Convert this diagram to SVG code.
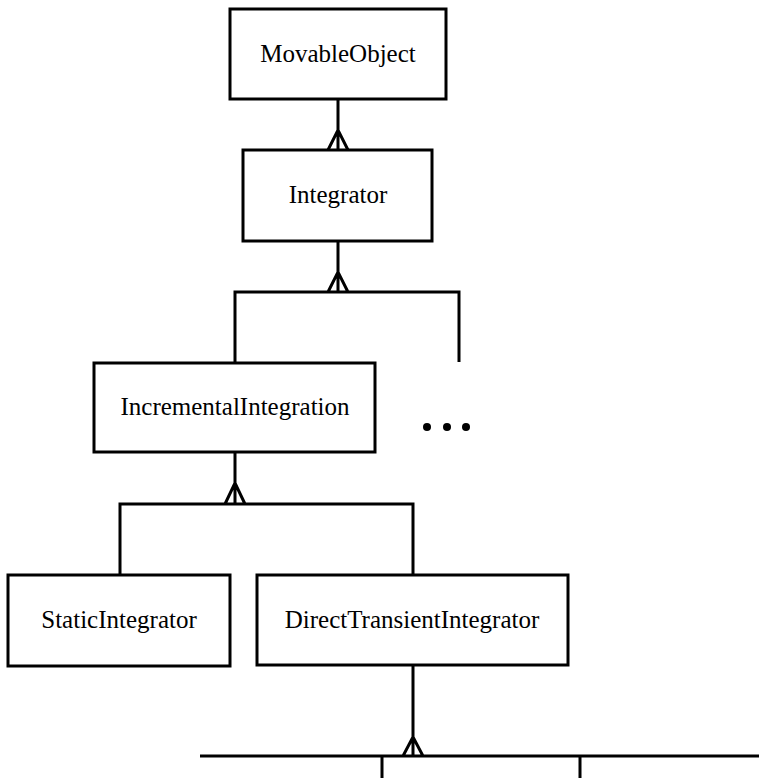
<svg xmlns="http://www.w3.org/2000/svg" width="759" height="778" viewBox="0 0 759 778">
<style>
.box{fill:#fff;stroke:#000;stroke-width:3}
.lbl{font-family:"Liberation Serif","Times New Roman",serif;font-size:25px;fill:#000;text-anchor:middle}
.con{fill:none;stroke:#000;stroke-width:3}
</style>
<rect width="759" height="778" fill="#fff"/>
<g id="connectors">
<path class="con" d="M338 99V150M328 150L338 130L348 150"/>
<path class="con" d="M338 241V292M328 292L338 272L348 292M235 363V292H459V362"/>
<path class="con" d="M235 452V504M225 504L235 483L245 504M120 575V504H413V575"/>
<path class="con" d="M413 665V756M403 756L413 737L423 756M200 756H760M382 756V780M580 756V780"/>
</g>
<g id="MovableObject"><rect class="box" x="230" y="9" width="216" height="90"/><text class="lbl" x="338" y="62">MovableObject</text></g>
<g id="Integrator"><rect class="box" x="243" y="150" width="189" height="91"/><text class="lbl" x="338" y="203">Integrator</text></g>
<g id="IncrementalIntegration"><rect class="box" x="94" y="363" width="281" height="89"/><text class="lbl" x="235" y="415">IncrementalIntegration</text></g>
<g id="ellipsis"><circle cx="427" cy="427" r="4"/><circle cx="447" cy="427" r="4"/><circle cx="466" cy="427" r="4"/></g>
<g id="StaticIntegrator"><rect class="box" x="8" y="575" width="222" height="91"/><text class="lbl" x="119" y="628">StaticIntegrator</text></g>
<g id="DirectTransientIntegrator"><rect class="box" x="257" y="575" width="311" height="90"/><text class="lbl" x="412" y="628">DirectTransientIntegrator</text></g>
</svg>
